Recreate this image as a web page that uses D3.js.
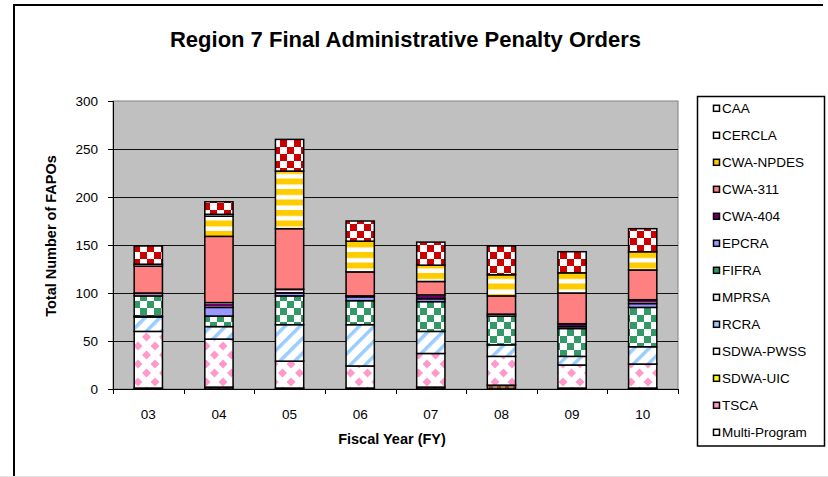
<!DOCTYPE html>
<html>
<head>
<meta charset="utf-8">
<script src="https://cdn.jsdelivr.net/npm/d3@7"></script>
<style>
body { margin: 0; background: #fff; }
text { font-family: Arial, "Liberation Sans", sans-serif; fill: #000; }
</style>
</head>
<body>
<svg id="chart"></svg>
<script>
// fiscal years on the x axis
var years = ['03', '04', '05', '06', '07', '08', '09', '10'];
// programs, bottom of the stack first
var programs = ['Multi-Program', 'TSCA', 'SDWA-UIC', 'SDWA-PWSS', 'RCRA', 'MPRSA', 'FIFRA',
    'EPCRA', 'CWA-404', 'CWA-311', 'CWA-NPDES', 'CERCLA', 'CAA'];
// number of FAPOs per program, one value per fiscal year
var multiProgram = [1, 2, 1, 1, 2, 4, 1, 1];
var tsca = [59, 50, 28, 23, 35, 30, 24, 25];
var sdwaUic = [0, 0, 0, 0, 0, 0, 0, 0];
var sdwaPwss = [0, 0, 0, 0, 0, 0, 0, 0];
var rcra = [15, 13, 38, 43, 23, 12, 9, 18];
var mprsa = [1, 0, 0, 0, 0, 0, 0, 0];
var fifra = [21, 11, 30, 25, 31, 30, 29, 41];
var epcra = [0, 9, 3, 4, 3, 0, 2, 4];
var cwa404 = [3, 5, 4, 1, 4, 2, 3, 4];
var cwa311 = [28, 69, 63, 25, 14, 19, 32, 31];
var cwaNpdes = [0, 21, 60, 32, 17, 22, 21, 19];
var cercla = [2, 2, 0, 0, 0, 0, 0, 0];
var caa = [19, 13, 33, 21, 24, 30, 22, 24];
var yTicks = [0, 50, 100, 150, 200, 250, 300];

var seriesValues = {
    'Multi-Program': multiProgram, 'TSCA': tsca, 'SDWA-UIC': sdwaUic, 'SDWA-PWSS': sdwaPwss,
    'RCRA': rcra, 'MPRSA': mprsa, 'FIFRA': fifra, 'EPCRA': epcra, 'CWA-404': cwa404,
    'CWA-311': cwa311, 'CWA-NPDES': cwaNpdes, 'CERCLA': cercla, 'CAA': caa
};
var rows = years.map(function (y, i) {
    var r = { year: y };
    programs.forEach(function (p) { r[p] = seriesValues[p][i]; });
    return r;
});

var W = 828, H = 477;
var plot = { left: 113, right: 678, top: 101, bottom: 389 };

var svg = d3.select('#chart').attr('width', W).attr('height', H);
svg.append('rect').attr('width', W).attr('height', H).attr('fill', '#fff');

// patterns
var defs = svg.append('defs');
function checker(id, color, s) {
    var p = defs.append('pattern').attr('id', id).attr('patternUnits', 'userSpaceOnUse')
        .attr('width', s * 2).attr('height', s * 2);
    p.append('rect').attr('width', s * 2).attr('height', s * 2).attr('fill', '#fff');
    p.append('rect').attr('width', s).attr('height', s).attr('fill', color);
    p.append('rect').attr('x', s).attr('y', s).attr('width', s).attr('height', s).attr('fill', color);
}
checker('pCAA', '#CC0000', 7);
checker('pFIFRA', '#339966', 7);

var pn = defs.append('pattern').attr('id', 'pNPDES').attr('patternUnits', 'userSpaceOnUse')
    .attr('width', 10).attr('height', 10.5);
pn.append('rect').attr('width', 10).attr('height', 10.5).attr('fill', '#fff');
pn.append('rect').attr('width', 10).attr('height', 6).attr('fill', '#FFCC00');

var p404 = defs.append('pattern').attr('id', 'p404').attr('patternUnits', 'userSpaceOnUse')
    .attr('width', 10).attr('height', 4);
p404.append('rect').attr('width', 10).attr('height', 4).attr('fill', '#fff');
p404.append('rect').attr('width', 10).attr('height', 2.5).attr('fill', '#660066');

var pr = defs.append('pattern').attr('id', 'pRCRA').attr('patternUnits', 'userSpaceOnUse')
    .attr('width', 10.5).attr('height', 10.5).attr('patternTransform', 'rotate(45)');
pr.append('rect').attr('width', 10.5).attr('height', 10.5).attr('fill', '#fff');
pr.append('rect').attr('width', 3.5).attr('height', 10.5).attr('fill', '#99CCFF');

var pt = defs.append('pattern').attr('id', 'pTSCA').attr('patternUnits', 'userSpaceOnUse')
    .attr('width', 17).attr('height', 18).attr('x', 2).attr('y', 4);
pt.append('rect').attr('width', 17).attr('height', 18).attr('fill', '#fff');
[[0, 0], [17, 0], [0, 18], [17, 18], [8.5, 9]].forEach(function (c) {
    pt.append('path')
        .attr('d', 'M' + c[0] + ',' + (c[1] - 4.5) + 'L' + (c[0] + 4.5) + ',' + c[1] +
            'L' + c[0] + ',' + (c[1] + 4.5) + 'L' + (c[0] - 4.5) + ',' + c[1] + 'Z')
        .attr('fill', '#FF99CC');
});

var pm = defs.append('pattern').attr('id', 'pMulti').attr('patternUnits', 'userSpaceOnUse')
    .attr('width', 8).attr('height', 4);
pm.append('rect').attr('width', 8).attr('height', 4).attr('fill', '#808080');
pm.append('rect').attr('x', 1).attr('width', 4).attr('height', 4).attr('fill', '#993300');

var fills = {
    'Multi-Program': 'url(#pMulti)', 'TSCA': 'url(#pTSCA)', 'SDWA-UIC': '#FFFF00',
    'SDWA-PWSS': '#fff', 'RCRA': 'url(#pRCRA)', 'MPRSA': '#fff', 'FIFRA': 'url(#pFIFRA)',
    'EPCRA': '#9999FF', 'CWA-404': 'url(#p404)', 'CWA-311': '#FF8080',
    'CWA-NPDES': 'url(#pNPDES)', 'CERCLA': '#fff', 'CAA': 'url(#pCAA)'
};
var swatch = {
    'Multi-Program': '#fff', 'TSCA': '#FF99CC', 'SDWA-UIC': '#FFFF00', 'SDWA-PWSS': '#fff',
    'RCRA': '#99CCFF', 'MPRSA': '#eee', 'FIFRA': '#339966', 'EPCRA': '#9999FF',
    'CWA-404': '#660066', 'CWA-311': '#FF8080', 'CWA-NPDES': '#FFCC00', 'CERCLA': '#fff', 'CAA': '#fff'
};

// outer frame
svg.append('path').attr('d', 'M14,' + H + 'V5H823').attr('fill', 'none')
    .attr('stroke', '#000').attr('stroke-width', 2);
svg.append('line').attr('x1', 0).attr('x2', W).attr('y1', H - 0.5).attr('y2', H - 0.5)
    .attr('stroke', '#e4e4e4');

var x = d3.scaleBand().domain(years).range([plot.left, plot.right])
    .paddingInner(0.6).paddingOuter(0.3);
var y = d3.scaleLinear().domain([0, 300]).range([plot.bottom, plot.top]);

// plot area
svg.append('rect').attr('x', plot.left).attr('y', plot.top)
    .attr('width', plot.right - plot.left).attr('height', plot.bottom - plot.top)
    .attr('fill', '#C0C0C0').attr('stroke', '#808080').attr('stroke-width', 1);
svg.append('g').selectAll('line').data(yTicks.filter(function (t) { return t > 0 && t < 300; }))
    .enter().append('line')
    .attr('x1', plot.left).attr('x2', plot.right)
    .attr('y1', function (d) { return Math.round(y(d)) + 0.5; })
    .attr('y2', function (d) { return Math.round(y(d)) + 0.5; })
    .attr('stroke', '#111').attr('stroke-width', 1);

// stacked bars
var stack = d3.stack().keys(programs);
var layers = svg.append('g').selectAll('g').data(stack(rows)).enter().append('g')
    .attr('fill', function (d) { return fills[d.key]; });
layers.selectAll('rect')
    .data(function (d) { return d.filter(function (s) { return s[1] > s[0]; }); })
    .enter().append('rect')
    .attr('x', function (d) { return x(d.data.year); })
    .attr('y', function (d) { return y(d[1]); })
    .attr('width', x.bandwidth())
    .attr('height', function (d) { return y(d[0]) - y(d[1]); })
    .attr('stroke', '#000').attr('stroke-width', 1.5);

// axes
var yAxis = svg.append('g').attr('transform', 'translate(' + plot.left + ',0)')
    .call(d3.axisLeft(y).tickValues(yTicks).tickSize(5).tickPadding(10));
yAxis.selectAll('text').attr('font-size', 13.5).attr('font-family', 'Arial, "Liberation Sans", sans-serif');
yAxis.select('.domain').attr('stroke', '#000');

var xAxis = svg.append('g').attr('transform', 'translate(0,' + plot.bottom + ')')
    .call(d3.axisBottom(x).tickSize(0).tickPadding(20));
xAxis.selectAll('text').attr('font-size', 13.5).attr('font-family', 'Arial, "Liberation Sans", sans-serif');
xAxis.select('.domain').remove();
svg.append('line').attr('x1', plot.left).attr('x2', plot.right)
    .attr('y1', plot.bottom + 0.5).attr('y2', plot.bottom + 0.5).attr('stroke', '#000');
var step = x.step();
svg.append('g').selectAll('line').data(d3.range(years.length + 1)).enter().append('line')
    .attr('x1', function (i) { return Math.round(plot.left + i * step) + 0.5; })
    .attr('x2', function (i) { return Math.round(plot.left + i * step) + 0.5; })
    .attr('y1', plot.bottom).attr('y2', plot.bottom + 5).attr('stroke', '#000');

// titles
svg.append('text').attr('x', 405.5).attr('y', 47).attr('text-anchor', 'middle')
    .attr('font-size', 22).attr('font-weight', 'bold')
    .text('Region 7 Final Administrative Penalty Orders');
svg.append('text').attr('x', 392).attr('y', 444).attr('text-anchor', 'middle')
    .attr('font-size', 14.5).attr('font-weight', 'bold').text('Fiscal Year (FY)');
svg.append('text').attr('transform', 'translate(56,236) rotate(-90)').attr('text-anchor', 'middle')
    .attr('font-size', 14.5).attr('font-weight', 'bold').text('Total Number of FAPOs');

// legend, top of stack first
var legend = svg.append('g');
legend.append('rect').attr('x', 697.5).attr('y', 96.5).attr('width', 127).attr('height', 349.5)
    .attr('fill', '#fff').attr('stroke', '#000').attr('stroke-width', 1.5);
var items = legend.selectAll('g.item').data(programs.slice().reverse()).enter().append('g')
    .attr('class', 'item')
    .attr('transform', function (d, i) { return 'translate(713,' + (108.3 + 27 * i) + ')'; });
items.append('rect').attr('x', 0.5).attr('y', -3).attr('width', 6).attr('height', 6)
    .attr('fill', function (d) { return swatch[d]; })
    .attr('stroke', '#000').attr('stroke-width', 1.5);
items.append('text').attr('x', 9).attr('dy', '0.36em').attr('font-size', 13.5)
    .text(function (d) { return d; });
</script>
</body>
</html>
